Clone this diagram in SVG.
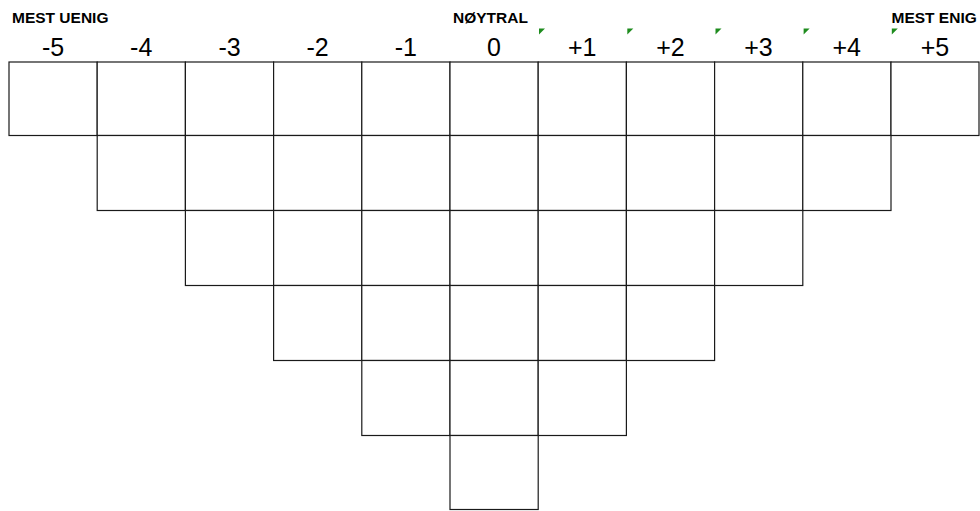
<svg xmlns="http://www.w3.org/2000/svg" width="980" height="511" viewBox="0 0 980 511">
<style>
.cell{fill:#fff;stroke:#1a1a1a;stroke-width:1.2}
.hdr{font-family:"Liberation Sans",Arial,sans-serif;font-weight:bold;font-size:15.5px;fill:#000}
.num{font-family:"Liberation Sans",Arial,sans-serif;font-size:25px;fill:#000;text-anchor:middle}
.mark{fill:#1e8c1e}
</style>
<rect width="980" height="511" fill="#fff"/>
<g id="labels">
<text class="hdr" x="12" y="22.7">MEST UENIG</text>
<text class="hdr" x="453" y="23">NØYTRAL</text>
<text class="hdr" x="891.5" y="23">MEST ENIG</text>
<text class="num" x="53" y="55.5">-5</text>
<text class="num" x="141.2" y="55.5">-4</text>
<text class="num" x="229.5" y="55.5">-3</text>
<text class="num" x="317.6" y="55.5">-2</text>
<text class="num" x="405.8" y="55.5">-1</text>
<text class="num" x="494" y="55.5">0</text>
<text class="num" x="582.2" y="55.5">+1</text>
<text class="num" x="670.4" y="55.5">+2</text>
<text class="num" x="758.5" y="55.5">+3</text>
<text class="num" x="846.7" y="55.5">+4</text>
<text class="num" x="935" y="55.5">+5</text>
</g>
<g id="markers">
<polygon class="mark" points="539,28.5 545,28.5 539,34.5"/>
<polygon class="mark" points="627.3,28.5 633.3,28.5 627.3,34.5"/>
<polygon class="mark" points="715.5,28.5 721.5,28.5 715.5,34.5"/>
<polygon class="mark" points="803.6,28.5 809.6,28.5 803.6,34.5"/>
<polygon class="mark" points="891.8,28.5 897.8,28.5 891.8,34.5"/>
</g>
<g id="row0">
<rect id="r0c0" class="cell" x="9" y="62" width="88.2" height="73.5"/>
<rect id="r0c1" class="cell" x="97.2" y="62" width="88.2" height="73.5"/>
<rect id="r0c2" class="cell" x="185.4" y="62" width="88.2" height="73.5"/>
<rect id="r0c3" class="cell" x="273.6" y="62" width="88.2" height="73.5"/>
<rect id="r0c4" class="cell" x="361.8" y="62" width="88.2" height="73.5"/>
<rect id="r0c5" class="cell" x="450" y="62" width="88.2" height="73.5"/>
<rect id="r0c6" class="cell" x="538.2" y="62" width="88.2" height="73.5"/>
<rect id="r0c7" class="cell" x="626.4" y="62" width="88.2" height="73.5"/>
<rect id="r0c8" class="cell" x="714.6" y="62" width="88.2" height="73.5"/>
<rect id="r0c9" class="cell" x="802.8" y="62" width="88.2" height="73.5"/>
<rect id="r0c10" class="cell" x="891" y="62" width="88" height="73.5"/>
</g>
<g id="row1">
<rect id="r1c1" class="cell" x="97.2" y="135.5" width="88.2" height="75"/>
<rect id="r1c2" class="cell" x="185.4" y="135.5" width="88.2" height="75"/>
<rect id="r1c3" class="cell" x="273.6" y="135.5" width="88.2" height="75"/>
<rect id="r1c4" class="cell" x="361.8" y="135.5" width="88.2" height="75"/>
<rect id="r1c5" class="cell" x="450" y="135.5" width="88.2" height="75"/>
<rect id="r1c6" class="cell" x="538.2" y="135.5" width="88.2" height="75"/>
<rect id="r1c7" class="cell" x="626.4" y="135.5" width="88.2" height="75"/>
<rect id="r1c8" class="cell" x="714.6" y="135.5" width="88.2" height="75"/>
<rect id="r1c9" class="cell" x="802.8" y="135.5" width="88.2" height="75"/>
</g>
<g id="row2">
<rect id="r2c2" class="cell" x="185.4" y="210.5" width="88.2" height="75"/>
<rect id="r2c3" class="cell" x="273.6" y="210.5" width="88.2" height="75"/>
<rect id="r2c4" class="cell" x="361.8" y="210.5" width="88.2" height="75"/>
<rect id="r2c5" class="cell" x="450" y="210.5" width="88.2" height="75"/>
<rect id="r2c6" class="cell" x="538.2" y="210.5" width="88.2" height="75"/>
<rect id="r2c7" class="cell" x="626.4" y="210.5" width="88.2" height="75"/>
<rect id="r2c8" class="cell" x="714.6" y="210.5" width="88.2" height="75"/>
</g>
<g id="row3">
<rect id="r3c3" class="cell" x="273.6" y="285.5" width="88.2" height="75"/>
<rect id="r3c4" class="cell" x="361.8" y="285.5" width="88.2" height="75"/>
<rect id="r3c5" class="cell" x="450" y="285.5" width="88.2" height="75"/>
<rect id="r3c6" class="cell" x="538.2" y="285.5" width="88.2" height="75"/>
<rect id="r3c7" class="cell" x="626.4" y="285.5" width="88.2" height="75"/>
</g>
<g id="row4">
<rect id="r4c4" class="cell" x="361.8" y="360.5" width="88.2" height="75"/>
<rect id="r4c5" class="cell" x="450" y="360.5" width="88.2" height="75"/>
<rect id="r4c6" class="cell" x="538.2" y="360.5" width="88.2" height="75"/>
</g>
<g id="row5">
<rect id="r5c5" class="cell" x="450" y="435.5" width="88.2" height="74"/>
</g>
</svg>
